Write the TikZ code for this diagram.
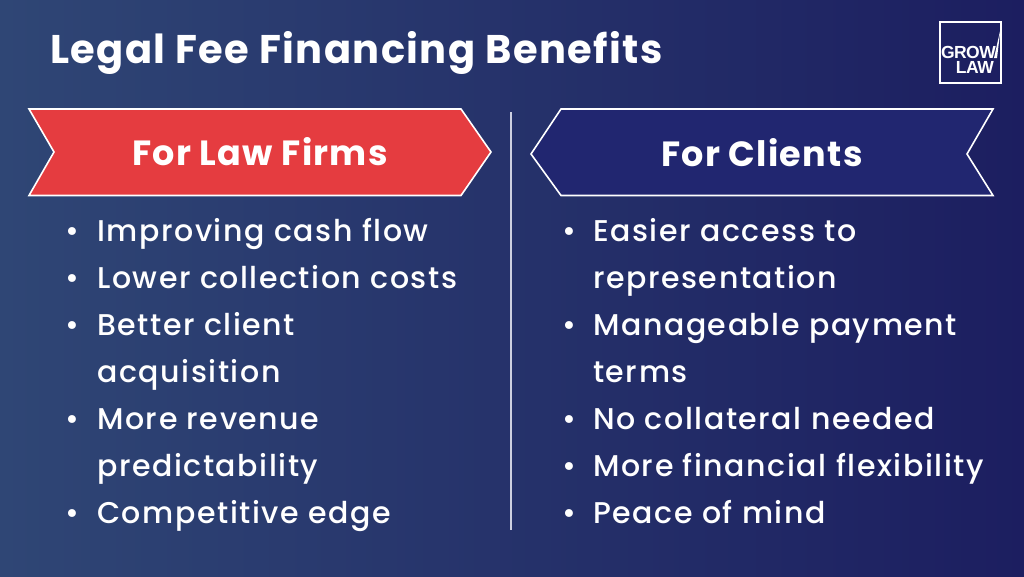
\documentclass[tikz,border=0pt]{standalone}
\usepackage{fontspec}
\setmainfont{Poppins}
\newfontfamily\BODYFONT[LetterSpace=5.2]{Poppins Medium}
\newfontfamily\HEADFONT[LetterSpace=3.5]{Poppins}
\newfontfamily\LOGOFONT[LetterSpace=-3]{Liberation Sans}
\usetikzlibrary{positioning}
\newcommand{\LINEPT}{1.6pt}
\definecolor{myleft}{RGB}{47,70,117}
\definecolor{myright}{RGB}{28,30,96}
\definecolor{myred}{RGB}{229,60,64}
\definecolor{mynavy}{RGB}{33,38,112}
\definecolor{mygray}{RGB}{205,208,224}
\tikzset{
	banner/.style={draw=white,line width=\LINEPT,miter limit=10},
	bannertext/.style={text=white,font=\HEADFONT\fontsize{35}{35}\selectfont\bfseries,anchor=base},
	titletext/.style={text=white,font=\HEADFONT\fontsize{40}{40}\selectfont\bfseries,anchor=base west,inner sep=0pt},
	itemtext/.style={text=white,font=\BODYFONT\fontsize{30}{30}\selectfont,anchor=base west,inner sep=0pt},
	itembullet/.style={text=white,font=\BODYFONT\fontsize{30}{30}\selectfont,anchor=base,inner sep=0pt},
	logotext/.style={text=white,font=\LOGOFONT\fontsize{17.5}{17.5}\selectfont\bfseries,anchor=base east,inner sep=0pt},
}
\begin{document}
\begin{tikzpicture}[x=1pt,y=-1pt]
	\useasboundingbox (0,0) rectangle (1024,576);
	\shade[left color=myleft,right color=myright] (0,0) rectangle (1024,576);

	%% title
	\node[titletext] (title) at (50,63) {Legal Fee Financing Benefits};

	%% logo
	\draw[white,line width=2pt] (940,22) rectangle (1001,83);
	\node[logotext] (grow) at (996,58) {GROW};
	\node[logotext] (law) at (994,73.5) {LAW};
	\fill[white] (1000.5,29) -- (997,58) -- (994,58) -- cycle;

	%% banners
	\draw[banner,fill=myred] (29,109) -- (461,109) -- (491,152) -- (461,195.5) -- (29,195.5) -- (54,152) -- cycle;
	\draw[banner,fill=mynavy] (993,109) -- (561,109) -- (531,154) -- (561,195.5) -- (993,195.5) -- (967,154) -- cycle;
	\node[bannertext] (firms) at (260,165) {For Law Firms};
	\node[bannertext] (clients) at (762,166) {For Clients};

	%% divider
	\coordinate (d1) at (511,112);
	\coordinate (d2) at (511,530);
	\draw[mygray,line width=1.5pt] (d1) -- (d2);

	%% left list
	\node[itembullet] (b1) at (72,241) {•};
	\node[itemtext] (l1) at (97,241) {Improving cash flow};
	\node[itembullet] (b2) at (72,288) {•};
	\node[itemtext] (l2) at (97,288) {Lower collection costs};
	\node[itembullet] (b3) at (72,335) {•};
	\node[itemtext] (l3) at (97,335) {Better client};
	\node[itemtext] (l4) at (97,382) {acquisition};
	\node[itembullet] (b4) at (72,429) {•};
	\node[itemtext] (l5) at (97,429) {More revenue};
	\node[itemtext] (l6) at (97,476) {predictability};
	\node[itembullet] (b5) at (72,523) {•};
	\node[itemtext] (l7) at (97,523) {Competitive edge};

	%% right list
	\node[itembullet] (c1) at (569,241) {•};
	\node[itemtext] (r1) at (593,241) {Easier access to};
	\node[itemtext] (r2) at (593,288) {representation};
	\node[itembullet] (c2) at (569,335) {•};
	\node[itemtext] (r3) at (593,335) {Manageable payment};
	\node[itemtext] (r4) at (593,382) {terms};
	\node[itembullet] (c3) at (569,429) {•};
	\node[itemtext] (r5) at (593,429) {No collateral needed};
	\node[itembullet] (c4) at (569,476) {•};
	\node[itemtext] (r6) at (593,476) {More financial flexibility};
	\node[itembullet] (c5) at (569,523) {•};
	\node[itemtext] (r7) at (593,523) {Peace of mind};
\end{tikzpicture}
\end{document}
